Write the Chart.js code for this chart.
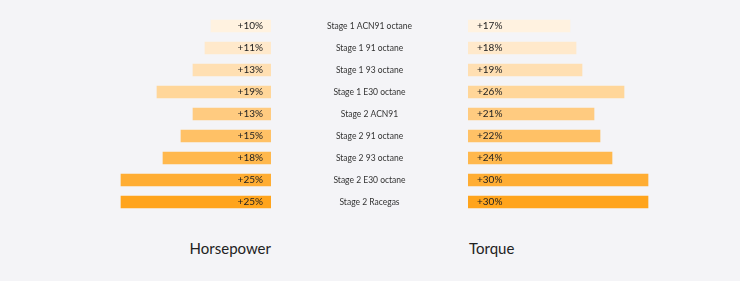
<!DOCTYPE html>
<html>
<head>
<meta charset="utf-8">
<script src="https://cdn.jsdelivr.net/npm/chart.js@4"></script>
<style>
    html, body {
        margin: 0;
        padding: 0;
        background: #f4f4f7;
        width: 740px;
        height: 281px;
        overflow: hidden;
        font-family: Lato, sans-serif;
    }
    #wrap {
        position: relative;
        width: 740px;
        height: 281px;
    }
    .box {
        position: absolute;
        top: 0;
        height: 213px;
    }
    #leftBox { left: 0; width: 468px; }
    #rightBox { left: 468px; width: 272px; }
    .title {
        position: absolute;
        top: 238px;
        font-size: 15px;
        color: #222;
        line-height: 20px;
    }
    #hpTitle { right: 469px; }
    #tqTitle { left: 469px; }
</style>
</head>
<body>
<div id="wrap">
    <div class="box" id="leftBox"><canvas id="hpChart"></canvas></div>
    <div class="box" id="rightBox"><canvas id="tqChart"></canvas></div>
    <div class="title" id="hpTitle">Horsepower</div>
    <div class="title" id="tqTitle">Torque</div>
</div>

<script>
const categories = [
    "Stage 1 ACN91 octane",
    "Stage 1 91 octane",
    "Stage 1 93 octane",
    "Stage 1 E30 octane",
    "Stage 2 ACN91",
    "Stage 2 91 octane",
    "Stage 2 93 octane",
    "Stage 2 E30 octane",
    "Stage 2 Racegas"
];

const horsepower = [10, 11, 13, 19, 13, 15, 18, 25, 25];
const torque = [17, 18, 19, 26, 21, 22, 24, 30, 30];

const barColors = [
    "#fff2e0",
    "#ffe9cb",
    "#ffdfb2",
    "#ffd699",
    "#ffcb80",
    "#ffc166",
    "#ffb84d",
    "#ffad33",
    "#ffa41c"
];

const AXIS_MAX = 40;

Chart.defaults.font.family = "Lato, sans-serif";
Chart.defaults.animation = false;

// value text next to the base of each bar
const valueLabels = {
    id: "valueLabels",
    afterDatasetsDraw(chart, args, opts) {
        const ctx = chart.ctx;
        const meta = chart.getDatasetMeta(0);
        const data = chart.data.datasets[0].data;

        ctx.save();
        ctx.font = "10px Lato, sans-serif";
        ctx.fillStyle = "#222";
        ctx.textBaseline = "middle";

        meta.data.forEach((bar, i) => {
            const text = "+" + data[i] + "%";
            if (opts.side === "left") {
                ctx.textAlign = "right";
                ctx.fillText(text, bar.base - 8, bar.y);
            } else {
                ctx.textAlign = "left";
                ctx.fillText(text, bar.base + 9, bar.y);
            }
        });

        ctx.restore();
    }
};

// category names in the gap between the two charts
const middleLabels = {
    id: "middleLabels",
    afterDraw(chart, args, opts) {
        if (!opts.show) return;
        const ctx = chart.ctx;
        const y = chart.scales.y;
        const cx = chart.chartArea.right + 98.5;

        ctx.save();
        ctx.font = "8.5px Lato, sans-serif";
        ctx.fillStyle = "#333";
        ctx.textAlign = "center";
        ctx.textBaseline = "middle";

        chart.data.labels.forEach((label, i) => {
            ctx.fillText(label, cx, y.getPixelForValue(i));
        });

        ctx.restore();
    }
};

function makeChart(id, values, side) {
    const left = side === "left";

    return new Chart(document.getElementById(id), {
        type: "bar",
        data: {
            labels: categories,
            datasets: [{
                data: values,
                backgroundColor: barColors,
                borderWidth: 0,
                barThickness: 12
            }]
        },
        options: {
            indexAxis: "y",
            responsive: true,
            maintainAspectRatio: false,
            layout: {
                padding: left
                    ? { top: 15, bottom: 0, left: 31, right: 197 }
                    : { top: 15, bottom: 0, left: 0, right: 32 }
            },
            plugins: {
                legend: { display: false },
                tooltip: { enabled: false },
                valueLabels: { side },
                middleLabels: { show: left }
            },
            scales: {
                x: {
                    display: false,
                    min: 0,
                    max: AXIS_MAX,
                    reverse: left
                },
                y: {
                    display: false
                }
            }
        },
        plugins: [valueLabels, middleLabels]
    });
}

makeChart("hpChart", horsepower, "left");
makeChart("tqChart", torque, "right");
</script>
</body>
</html>
